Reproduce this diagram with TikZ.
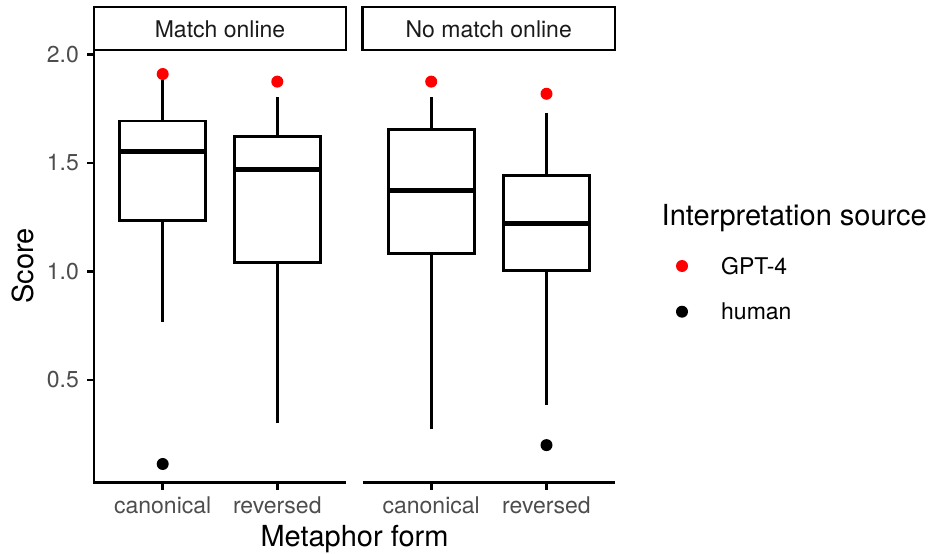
\documentclass[tikz,border=0pt]{standalone}
\usepackage{fontspec}
\setmainfont{TeX Gyre Heros}
\usepackage{xcolor}
\definecolor{tickgray}{RGB}{77,77,77}
\definecolor{stripgray}{RGB}{26,26,26}
\usepackage{tikz}
\usetikzlibrary{positioning}
\newcommand{\yv}[1]{488.5-217*#1}
\newcommand{\smallfont}{\fontsize{23}{27}\selectfont}
\newcommand{\largefont}{\fontsize{29}{34}\selectfont}
\tikzstyle{axis} = [line width=2.7pt]
\tikzstyle{whisker} = [line width=2.6pt]
\tikzstyle{box} = [line width=2.7pt, fill=white]
\tikzstyle{median} = [line width=5pt]
\tikzstyle{ticklabel} = [text=tickgray, font=\smallfont, inner sep=0pt]
\tikzstyle{gpt} = [circle, fill=red, inner sep=0pt, minimum size=12pt]
\tikzstyle{human} = [circle, fill=black, inner sep=0pt, minimum size=12pt]
% x, lower whisker, q1, median, q3, upper whisker
\newcommand{\metabox}[6]{
    \draw[whisker] (#1,{\yv{#2}}) -- (#1,{\yv{#3}});
    \draw[whisker] (#1,{\yv{#5}}) -- (#1,{\yv{#6}});
    \draw[box] ({#1-43},{\yv{#3}}) rectangle ({#1+43},{\yv{#5}});
    \draw[median] ({#1-43},{\yv{#4}}) -- ({#1+43},{\yv{#4}});
}

\begin{document}
\begin{tikzpicture}[x=1pt, y=-1pt]
    \useasboundingbox (0,0) rectangle (930,554);

    % facet strips
    \draw[axis] (94,7) rectangle (346,50);
    \draw[axis] (362.5,7) rectangle (615,50);
    \node[anchor=base, inner sep=0pt, text=stripgray, font=\smallfont] (stripA) at (220,37.3) {Match online};
    \node[anchor=base, inner sep=0pt, text=stripgray, font=\smallfont] (stripB) at (488.7,37.3) {No match online};

    % axes
    \draw[axis] (94,50) -- (94,482.7) -- (346,482.7);
    \draw[axis] (362.5,482.7) -- (615,482.7);
    \draw[axis] (87,{\yv{2.0}}) -- (94,{\yv{2.0}});
    \draw[axis] (87,{\yv{1.5}}) -- (94,{\yv{1.5}});
    \draw[axis] (87,{\yv{1.0}}) -- (94,{\yv{1.0}});
    \draw[axis] (87,{\yv{0.5}}) -- (94,{\yv{0.5}});
    \draw[axis] (162.7,482.7) -- (162.7,490);
    \draw[axis] (277.3,482.7) -- (277.3,490);
    \draw[axis] (431.2,482.7) -- (431.2,490);
    \draw[axis] (546.5,482.7) -- (546.5,490);

    \node[ticklabel, anchor=east] (yTwo) at (79,{\yv{2.0}}) {2.0};
    \node[ticklabel, anchor=east] (yOneHalf) at (79,{\yv{1.5}}) {1.5};
    \node[ticklabel, anchor=east] (yOne) at (79,{\yv{1.0}}) {1.0};
    \node[ticklabel, anchor=east] (yHalf) at (79,{\yv{0.5}}) {0.5};

    \node[ticklabel, anchor=base] (xCanA) at (162.7,513.5) {canonical};
    \node[ticklabel, anchor=base] (xRevA) at (277.3,513.5) {reversed};
    \node[ticklabel, anchor=base] (xCanB) at (431.2,513.5) {canonical};
    \node[ticklabel, anchor=base] (xRevB) at (546.5,513.5) {reversed};

    \node[anchor=base, inner sep=0pt, font=\largefont] (xTitle) at (354.5,546.5) {Metaphor form};
    \node[anchor=base, inner sep=0pt, rotate=90, font=\largefont] (yTitle) at (33.5,266) {Score};

    % boxes
    \metabox{162.7}{0.769}{1.236}{1.555}{1.694}{1.882}
    \metabox{277.3}{0.303}{1.042}{1.471}{1.621}{1.806}
    \metabox{431.2}{0.273}{1.084}{1.372}{1.655}{1.806}
    \metabox{546.5}{0.385}{1.004}{1.222}{1.441}{1.732}

    \node[gpt] (gptA) at (162.7,{\yv{1.91}}) {};
    \node[gpt] (gptB) at (277.3,{\yv{1.875}}) {};
    \node[gpt] (gptC) at (431.2,{\yv{1.875}}) {};
    \node[gpt] (gptD) at (546.5,{\yv{1.819}}) {};
    \node[human] (humanA) at (162.7,{\yv{0.113}}) {};
    \node[human] (humanD) at (546.5,{\yv{0.200}}) {};

    % legend
    \node[anchor=base west, inner sep=0pt, font=\largefont] (legTitle) at (661.5,225) {Interpretation source};
    \node[gpt] (legGpt) at (682,266) {};
    \node[human] (legHuman) at (682,311.7) {};
    \node[anchor=base west, inner sep=0pt, font=\smallfont] (legGptText) at (721,274) {GPT-4};
    \node[anchor=base west, inner sep=0pt, font=\smallfont] (legHumanText) at (721,319.3) {human};

\end{tikzpicture}
\end{document}
